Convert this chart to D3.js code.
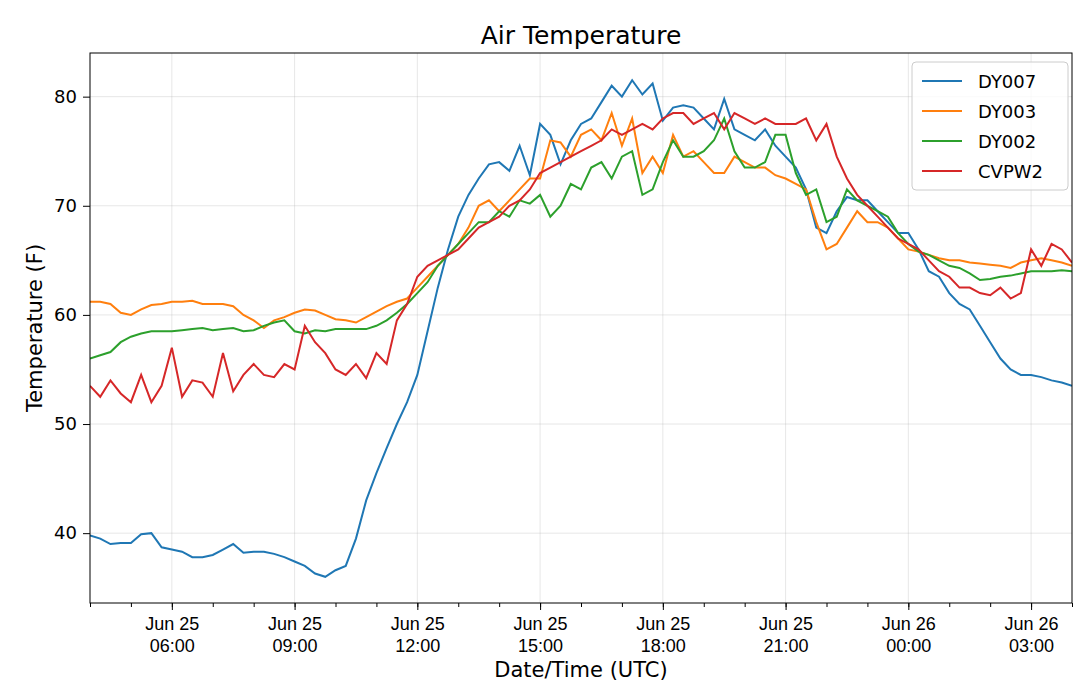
<!DOCTYPE html>
<html><head><meta charset="utf-8">
<script src="https://cdnjs.cloudflare.com/ajax/libs/d3/7.8.5/d3.min.js"></script>
<style>body{margin:0;background:#fff;font-family:"DejaVu Sans",sans-serif;}</style>
</head><body><svg id="chart" width="1080" height="688"></svg>
<script>
// 15-minute samples from Jun 25 04:00 UTC to Jun 26 04:00 UTC
const startTime = Date.UTC(2019, 5, 25, 4, 0);
const stepMin = 15;
const seriesNames = ["DY007", "DY003", "DY002", "CVPW2"];
const colors = ["#1f77b4", "#ff7f0e", "#2ca02c", "#d62728"];
const dy007 = [39.8,39.5,39.0,39.1,39.1,39.9,40.0,38.7,38.5,38.3,37.8,37.8,38.0,38.5,39.0,38.2,38.3,38.3,38.1,37.8,37.4,37.0,36.3,36.0,36.6,37.0,39.5,43.0,45.5,47.8,50.0,52.0,54.5,58.5,62.5,66.0,69.0,71.0,72.5,73.8,74.0,73.2,75.5,72.8,77.5,76.5,73.8,76.0,77.5,78.0,79.5,81.0,80.0,81.5,80.2,81.2,77.8,79.0,79.2,79.0,78.0,77.0,79.8,77.0,76.5,76.0,77.0,75.5,74.5,73.5,71.5,68.0,67.5,69.5,70.8,70.5,70.5,69.5,68.5,67.5,67.5,66.0,64.0,63.5,62.0,61.0,60.5,59.0,57.5,56.0,55.0,54.5,54.5,54.3,54.0,53.8,53.5];
const dy003 = [61.2,61.2,61.0,60.2,60.0,60.5,60.9,61.0,61.2,61.2,61.3,61.0,61.0,61.0,60.8,60.0,59.5,58.8,59.5,59.8,60.2,60.5,60.4,60.0,59.6,59.5,59.3,59.8,60.3,60.8,61.2,61.5,62.5,63.5,64.5,65.5,66.5,68.0,70.0,70.5,69.5,70.5,71.5,72.5,72.5,76.0,75.8,74.5,76.5,77.0,76.0,78.5,75.5,78.0,73.0,74.5,73.0,76.5,74.5,75.0,74.0,73.0,73.0,74.5,74.0,73.5,73.5,72.8,72.5,72.0,71.5,68.5,66.0,66.5,68.0,69.5,68.5,68.5,68.0,67.0,66.0,65.8,65.5,65.2,65.0,65.0,64.8,64.7,64.6,64.5,64.3,64.8,65.0,65.2,65.0,64.8,64.5];
const dy002 = [56.0,56.3,56.6,57.5,58.0,58.3,58.5,58.5,58.5,58.6,58.7,58.8,58.6,58.7,58.8,58.5,58.6,59.0,59.3,59.5,58.5,58.3,58.6,58.5,58.7,58.7,58.7,58.7,59.0,59.5,60.2,61.0,62.0,63.0,64.5,65.5,66.5,67.5,68.5,68.5,69.5,69.0,70.5,70.2,71.0,69.0,70.0,72.0,71.5,73.5,74.0,72.5,74.5,75.0,71.0,71.5,74.0,76.0,74.5,74.5,75.0,76.0,78.0,75.0,73.5,73.5,74.0,76.5,76.5,73.0,71.0,71.5,68.5,69.0,71.5,70.5,70.0,69.5,69.0,67.5,66.5,65.8,65.5,65.0,64.5,64.3,63.8,63.2,63.3,63.5,63.6,63.8,64.0,64.0,64.0,64.1,64.0];
const cvpw2 = [53.5,52.5,54.0,52.8,52.0,54.5,52.0,53.5,57.0,52.5,54.0,53.8,52.5,56.5,53.0,54.5,55.5,54.5,54.3,55.5,55.0,59.0,57.5,56.5,55.0,54.5,55.5,54.2,56.5,55.5,59.5,61.0,63.5,64.5,65.0,65.5,66.0,67.0,68.0,68.5,69.0,70.0,70.5,71.5,73.0,73.5,74.0,74.5,75.0,75.5,76.0,77.0,76.5,77.0,77.5,77.0,78.0,78.5,78.5,77.5,78.0,78.5,77.0,78.5,78.0,77.5,78.0,77.5,77.5,77.5,78.0,76.0,77.5,74.5,72.5,71.0,70.0,69.0,68.0,67.0,66.5,66.0,65.0,64.0,63.5,62.5,62.5,62.0,61.8,62.5,61.5,62.0,66.0,64.5,66.5,66.0,64.8];
const seriesValues = [dy007, dy003, dy002, cvpw2];
const yTicks = [40, 50, 60, 70, 80];

const svg = d3.select("#chart");
const m = {left: 90, right: 1072, top: 53, bottom: 603};
const x = d3.scaleUtc()
  .domain([new Date(startTime), new Date(startTime + 24 * 3600e3)])
  .range([m.left, m.right]);
const y = d3.scaleLinear().domain([33.6, 84.0]).range([m.bottom, m.top]);

const majorTicks = d3.range(1, 8.1).map(k => new Date(startTime + (2 + 3 * (k - 1)) * 3600e3));
const minorTicks = d3.range(0, 25).map(h => new Date(startTime + h * 3600e3));

// grid
svg.append("g").selectAll("line").data(majorTicks).join("line")
  .attr("x1", d => x(d)).attr("x2", d => x(d)).attr("y1", m.top).attr("y2", m.bottom)
  .attr("stroke", "#b0b0b0").attr("stroke-opacity", 0.3);
svg.append("g").selectAll("line").data(yTicks).join("line")
  .attr("y1", d => y(d)).attr("y2", d => y(d)).attr("x1", m.left).attr("x2", m.right)
  .attr("stroke", "#b0b0b0").attr("stroke-opacity", 0.3);

// lines
const line = d3.line()
  .x((d, i) => x(new Date(startTime + i * stepMin * 60e3)))
  .y(d => y(d));
svg.append("defs").append("clipPath").attr("id", "clip").append("rect")
  .attr("x", m.left).attr("y", m.top).attr("width", m.right - m.left).attr("height", m.bottom - m.top);
seriesValues.forEach((vals, k) => {
  svg.append("path").datum(vals).attr("d", line).attr("fill", "none")
    .attr("stroke", colors[k]).attr("stroke-width", 2).attr("clip-path", "url(#clip)");
});

// axes
const fmtDay = d3.utcFormat("%b %d"), fmtTime = d3.utcFormat("%H:%M");
const xAxis = svg.append("g").attr("transform", `translate(0,${m.bottom})`)
  .call(d3.axisBottom(x).tickValues(majorTicks).tickSize(7).tickFormat(""));
xAxis.select(".domain").remove();
xAxis.selectAll(".tick").each(function(d) {
  const t = d3.select(this).append("text").attr("fill", "#000").attr("font-size", 18)
    .attr("text-anchor", "middle");
  t.append("tspan").attr("x", 0).attr("y", 27).text(fmtDay(d));
  t.append("tspan").attr("x", 0).attr("y", 49).text(fmtTime(d));
});
svg.append("g").attr("transform", `translate(0,${m.bottom})`)
  .call(d3.axisBottom(x).tickValues(minorTicks).tickSize(4).tickFormat(""))
  .select(".domain").remove();

const yAxis = svg.append("g").attr("transform", `translate(${m.left},0)`)
  .call(d3.axisLeft(y).tickValues(yTicks).tickSize(7).tickPadding(6));
yAxis.select(".domain").remove();
yAxis.selectAll("text").attr("font-size", 18).attr("fill", "#000").attr("font-family", "DejaVu Sans");

svg.append("rect").attr("x", m.left).attr("y", m.top).attr("width", m.right - m.left)
  .attr("height", m.bottom - m.top).attr("fill", "none").attr("stroke", "#000").attr("stroke-width", 1);

svg.append("text").attr("x", (m.left + m.right) / 2).attr("y", 44).attr("text-anchor", "middle")
  .attr("font-size", 25).text("Air Temperature");
svg.append("text").attr("x", (m.left + m.right) / 2).attr("y", 677).attr("text-anchor", "middle")
  .attr("font-size", 21).text("Date/Time (UTC)");
svg.append("text").attr("transform", `translate(42,${(m.top + m.bottom) / 2}) rotate(-90)`)
  .attr("text-anchor", "middle").attr("font-size", 21).text("Temperature (F)");

// legend
const lg = svg.append("g").attr("transform", "translate(912,62)");
lg.append("rect").attr("width", 156).attr("height", 128).attr("rx", 4)
  .attr("fill", "#fff").attr("fill-opacity", 0.8).attr("stroke", "#ccc");
seriesNames.forEach((n, k) => {
  const yy = 19 + k * 30;
  lg.append("line").attr("x1", 10).attr("x2", 50).attr("y1", yy).attr("y2", yy)
    .attr("stroke", colors[k]).attr("stroke-width", 2);
  lg.append("text").attr("x", 66).attr("y", yy + 7).attr("font-size", 18).text(n);
});
</script></body></html>
